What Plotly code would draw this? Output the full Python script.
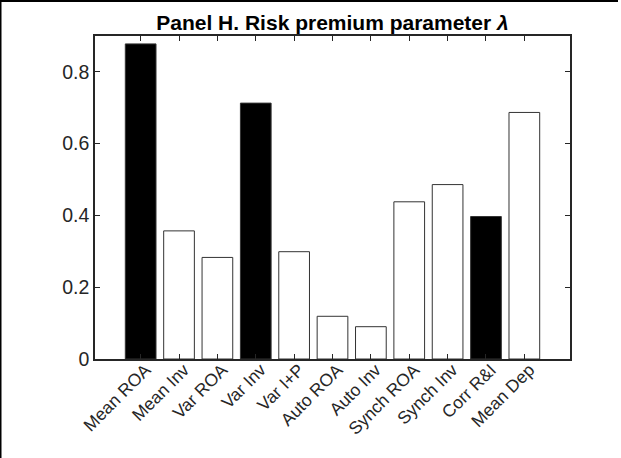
import plotly.graph_objects as go

# Moments used to identify the risk premium parameter
categories = ["Mean ROA", "Mean Inv", "Var ROA", "Var Inv", "Var I+P", "Auto ROA",
              "Auto Inv", "Synch ROA", "Synch Inv", "Corr R&I", "Mean Dep"]
sensitivity = [0.878, 0.357, 0.283, 0.713, 0.299, 0.119, 0.090, 0.438, 0.486, 0.397, 0.687]
highlighted = [True, False, False, True, False, False, False, False, False, True, False]
y_ticks = [0, 0.2, 0.4, 0.6, 0.8]
y_tick_labels = ["0", "0.2", "0.4", "0.6", "0.8"]

axis_color = "#262626"
font_family = "Liberation Sans, Arial, Helvetica, sans-serif"

fig = go.Figure()
fig.add_trace(go.Bar(
    x=list(range(len(categories))),
    y=sensitivity,
    width=0.8,
    marker=dict(
        color=["#000000" if h else "#ffffff" for h in highlighted],
        line=dict(color="#333333", width=1),
    ),
    hoverinfo="skip",
))

fig.update_layout(
    width=621,
    height=458,
    margin=dict(l=95, r=51, t=36, b=99),
    paper_bgcolor="white",
    plot_bgcolor="white",
    showlegend=False,
    font=dict(family=font_family, color=axis_color, size=17),
    title=dict(
        text="<b>Panel H. Risk premium parameter <i>λ</i></b>",
        x=0.5, xref="paper", xanchor="center",
        y=1, yref="paper", yanchor="bottom", pad=dict(b=6),
        font=dict(family=font_family, size=21, color="#000000"),
    ),
    xaxis=dict(
        range=[-1.19, 11.19],
        tickmode="array",
        tickvals=list(range(len(categories))),
        ticktext=categories,
        tickangle=-45,
        ticklabelstandoff=-8,
        ticklabelshift=5,
        ticks="inside", ticklen=5, tickwidth=1.2, tickcolor=axis_color,
        showline=True, linecolor=axis_color, linewidth=1.5, mirror="ticks",
        showgrid=False, zeroline=False,
        tickfont=dict(size=17.5, color=axis_color),
    ),
    yaxis=dict(
        range=[0, 0.9],
        tickmode="array",
        tickvals=y_ticks,
        ticktext=y_tick_labels,
        ticks="inside", ticklen=5, tickwidth=1.2, tickcolor=axis_color,
        showline=True, linecolor=axis_color, linewidth=1.5, mirror="ticks",
        showgrid=False, zeroline=False,
        tickfont=dict(size=19.5, color=axis_color),
    ),
    shapes=[
        # frame edges along the top and left of the canvas
        dict(type="rect", xref="paper", yref="paper",
             x0=-95 / 475, x1=523 / 475, y0=1 + 34 / 322.7, y1=1 + 36 / 322.7,
             fillcolor="#000000", line=dict(width=0), layer="above"),
        dict(type="rect", xref="paper", yref="paper",
             x0=-95 / 475, x1=-93.5 / 475, y0=-99.3 / 322.7, y1=1 + 36 / 322.7,
             fillcolor="#000000", line=dict(width=0), layer="above"),
    ],
)

fig.write_html("out.html")
